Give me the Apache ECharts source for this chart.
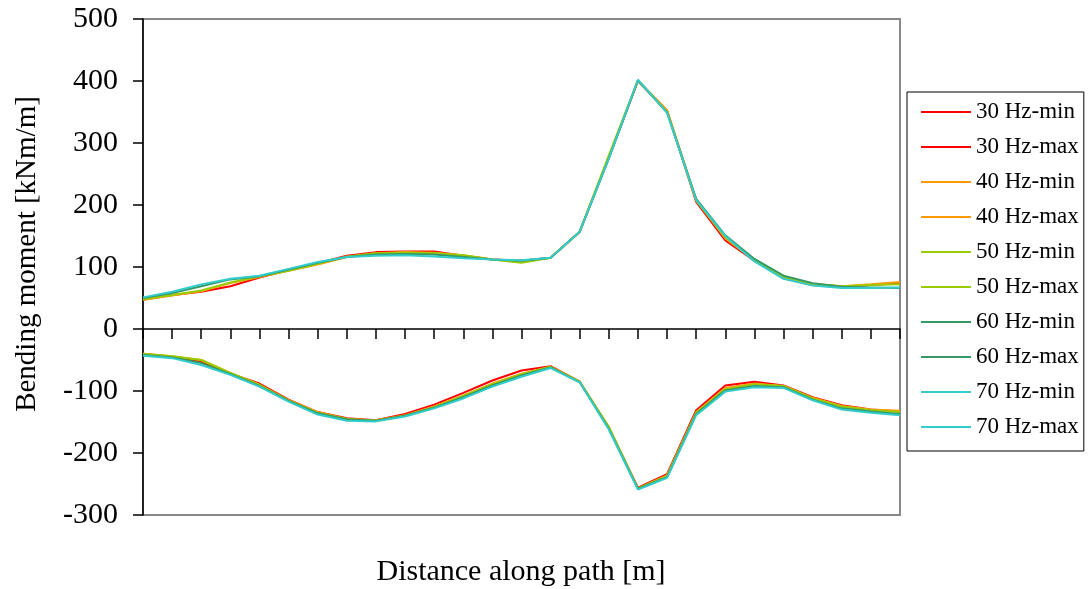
<!DOCTYPE html>
<html>
<head>
<meta charset="utf-8">
<script src="https://cdn.jsdelivr.net/npm/echarts@6/dist/echarts.min.js"></script>
<style>
  html, body { margin: 0; padding: 0; background: #fff; }
  #main { width: 1090px; height: 589px; }
</style>
</head>
<body>
<div id="main"></div>
<script>
// 27 stations along the path, points sit on the tick marks
const stations = Array.from({ length: 27 }, (_, i) => String(i + 1));

// upper envelope (max) per frequency
const max30 = [47, 55, 60, 69, 83, 95, 106, 118, 124, 125, 125, 118, 112, 110, 115, 157, 276, 400, 352, 205, 143, 110, 82, 71, 68, 71, 74];
const max40 = [47, 54, 61, 74, 84, 94, 104, 116, 122, 124, 123, 119, 112, 108, 115, 157, 278, 401, 353, 208, 146, 111, 83, 72, 69, 72, 76];
const max50 = [48, 55, 62, 75, 85, 94, 105, 117, 122, 123, 122, 119, 112, 107, 115, 157, 280, 401, 350, 207, 148, 112, 84, 73, 69, 71, 72];
const max60 = [50, 58, 69, 80, 85, 96, 107, 116, 120, 121, 120, 116, 112, 110, 115, 157, 275, 401, 349, 210, 151, 113, 86, 74, 68, 67, 66];
const max70 = [51, 60, 72, 81, 86, 97, 108, 116, 118, 119, 117, 114, 112, 111, 115, 157, 275, 402, 349, 208, 150, 109, 81, 70, 66, 66, 67];

// lower envelope (min) per frequency
const min30 = [-40, -45, -53, -72, -88, -114, -134, -144, -147, -137, -122, -103, -83, -67, -60, -85, -160, -256, -234, -131, -91, -85, -91, -110, -123, -130, -133];
const min40 = [-40, -44, -50, -71, -90, -115, -134, -145, -147, -139, -125, -107, -88, -72, -61, -85, -158, -257, -236, -134, -95, -88, -92, -111, -124, -130, -132];
const min50 = [-40, -44, -50, -71, -90, -115, -135, -145, -148, -140, -126, -108, -89, -73, -61, -85, -158, -257, -237, -135, -97, -89, -92, -112, -125, -131, -134];
const min60 = [-42, -46, -55, -73, -92, -116, -136, -146, -148, -140, -127, -110, -91, -75, -62, -86, -161, -258, -239, -137, -99, -92, -94, -114, -128, -133, -137];
const min70 = [-43, -47, -58, -74, -93, -117, -138, -148, -149, -141, -128, -112, -93, -77, -63, -86, -162, -259, -240, -139, -101, -94, -95, -115, -130, -135, -139];

const yTicks = [-300, -200, -100, 0, 100, 200, 300, 400, 500];

const seriesDefs = [
  { name: "30 Hz-min", data: min30, color: "#FF0000" },
  { name: "30 Hz-max", data: max30, color: "#FF0000" },
  { name: "40 Hz-min", data: min40, color: "#FF9900" },
  { name: "40 Hz-max", data: max40, color: "#FF9900" },
  { name: "50 Hz-min", data: min50, color: "#99CC00" },
  { name: "50 Hz-max", data: max50, color: "#99CC00" },
  { name: "60 Hz-min", data: min60, color: "#339966" },
  { name: "60 Hz-max", data: max60, color: "#339966" },
  { name: "70 Hz-min", data: min70, color: "#33CCCC" },
  { name: "70 Hz-max", data: max70, color: "#33CCCC" },
];

const font = "'Liberation Serif', 'Times New Roman', serif";

const chart = echarts.init(document.getElementById("main"));

const option = {
  animation: false,
  backgroundColor: "#fff",
  textStyle: { fontFamily: font, color: "#000" },
  grid: {
    left: 143,
    right: 190,
    top: 19,
    bottom: 74,
    show: true,
    borderColor: "#888",
    borderWidth: 2,
    backgroundColor: "#fff",
  },
  legend: {
    orient: "vertical",
    left: 907,
    top: 92,
    padding: [8, 5, 12, 14],
    icon: "rect",
    itemWidth: 50,
    itemHeight: 2,
    itemGap: 11,
    backgroundColor: "#fff",
    borderColor: "#000",
    borderWidth: 1,
    borderRadius: 0,
    textStyle: { fontFamily: font, fontSize: 23, color: "#000", lineHeight: 24 },
    data: seriesDefs.map((s) => s.name),
  },
  graphic: [
    {
      type: "text",
      x: 27,
      y: 254,
      rotation: Math.PI / 2,
      style: {
        text: "Bending moment [kNm/m]",
        fontFamily: font,
        fontSize: 29,
        fill: "#000",
        textAlign: "center",
        textVerticalAlign: "middle",
      },
    },
    {
      type: "text",
      x: 521,
      y: 572,
      style: {
        text: "Distance along path [m]",
        fontFamily: font,
        fontSize: 30,
        fill: "#000",
        textAlign: "center",
        textVerticalAlign: "middle",
      },
    },
  ],
  xAxis: {
    type: "category",
    data: stations,
    boundaryGap: false,
    axisLine: { onZero: true, lineStyle: { color: "#000", width: 1.5 } },
    axisTick: { show: true, interval: 0, length: 10, lineStyle: { color: "#000", width: 1.5 } },
    axisLabel: { show: false },
    splitLine: { show: false },
  },
  yAxis: {
    type: "value",
    min: yTicks[0],
    max: yTicks[yTicks.length - 1],
    interval: 100,
    axisLine: { show: true, lineStyle: { color: "#000", width: 1.5 } },
    axisTick: { show: true, length: 10, lineStyle: { color: "#000", width: 1.5 } },
    axisLabel: { fontFamily: font, fontSize: 30, color: "#000", margin: 25 },
    splitLine: { show: false },
  },
  series: seriesDefs.map((s) => ({
    name: s.name,
    type: "line",
    data: s.data,
    symbol: "none",
    color: s.color,
    lineStyle: { color: s.color, width: 2 },
  })),
};

chart.setOption(option);
</script>
</body>
</html>
